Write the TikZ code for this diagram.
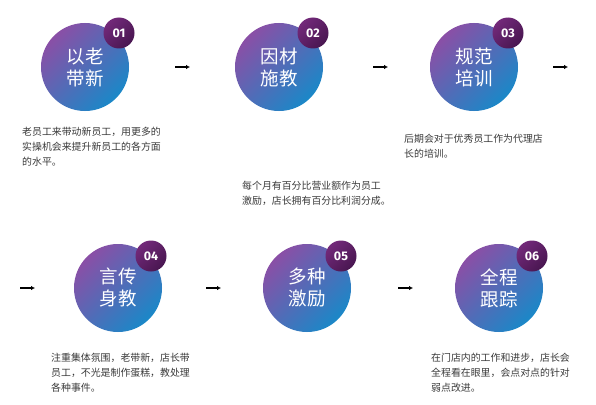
\documentclass[tikz,border=0pt]{standalone}
\usepackage{fontspec}
\setmainfont{Noto Sans CJK SC}
\newfontfamily\numfont{Fira Sans}
\usetikzlibrary{calc}
\usetikzlibrary{arrows.meta}

\definecolor{discTop}{HTML}{8A4FA6}
\definecolor{discBot}{HTML}{1A88C8}
\definecolor{badgeTop}{HTML}{73297A}
\definecolor{badgeBot}{HTML}{481650}
\definecolor{descGray}{HTML}{3A3A3A}

\tikzset{
  stepdisc/.style={circle, minimum size=88pt, inner sep=0pt,
    top color=discTop, bottom color=discBot, shading angle=45,
    text=white, align=center, font=\fontsize{18.5}{22}\selectfont},
  badge/.style={circle, minimum size=31pt, inner sep=0pt,
    top color=badgeTop, bottom color=badgeBot, shading angle=45,
    text=white, font=\numfont\bfseries\fontsize{12.5}{14}\selectfont},
  desc/.style={anchor=north west, align=left, inner sep=0pt,
    text=descGray, font=\fontsize{9.9}{15}\selectfont},
  flowarrow/.style={-{Latex[length=4pt,width=4.5pt]}, line width=1.1pt}
}

\begin{document}
\begin{tikzpicture}[x=1pt,y=-1pt]
            \useasboundingbox (0,0) rectangle (596,404);
            \fill[white] (0,0) rectangle (596,404);

            % Centres of the six discs
            \coordinate (D1) at (85, 67);
            \coordinate (D2) at (279, 67);
            \coordinate (D3) at (474, 67);
            \coordinate (D4) at (118, 288);
            \coordinate (D5) at (307, 288);
            \coordinate (D6) at (499, 288);

            % Draw the discs
            \node[stepdisc] (s1) at (D1) {以老\\带新};
            \node[stepdisc] (s2) at (D2) {因材\\施教};
            \node[stepdisc] (s3) at (D3) {规范\\培训};
            \node[stepdisc] (s4) at (D4) {言传\\身教};
            \node[stepdisc] (s5) at (D5) {多种\\激励};
            \node[stepdisc] (s6) at (D6) {全程\\跟踪};

            % Draw the number badges
            \node[badge] (b1) at ($(D1)+(34,-34)$) {01};
            \node[badge] (b2) at ($(D2)+(34,-34)$) {02};
            \node[badge] (b3) at ($(D3)+(34,-34)$) {03};
            \node[badge] (b4) at ($(D4)+(33,-32)$) {04};
            \node[badge] (b5) at ($(D5)+(34,-32)$) {05};
            \node[badge] (b6) at ($(D6)+(33,-32)$) {06};

            % Draw the arrows
            \coordinate (A1) at (175, 67);  \coordinate (A1e) at (190, 67);
            \coordinate (A2) at (373, 67);  \coordinate (A2e) at (388, 67);
            \coordinate (A3) at (553, 67);  \coordinate (A3e) at (568, 67);
            \coordinate (A4) at (20, 288);  \coordinate (A4e) at (35, 288);
            \coordinate (A5) at (206, 288); \coordinate (A5e) at (221, 288);
            \coordinate (A6) at (398, 288); \coordinate (A6e) at (413, 288);
            \draw[flowarrow] (A1) -- (A1e);
            \draw[flowarrow] (A2) -- (A2e);
            \draw[flowarrow] (A3) -- (A3e);
            \draw[flowarrow] (A4) -- (A4e);
            \draw[flowarrow] (A5) -- (A5e);
            \draw[flowarrow] (A6) -- (A6e);

            % Draw the descriptions
            \node[desc] (t1) at (22, 127) {老员工来带动新员工，用更多的\\实操机会来提升新员工的各方面\\的水平。};
            \node[desc] (t2) at (242, 181) {每个月有百分比营业额作为员工\\激励，店长拥有百分比利润分成。};
            \node[desc] (t3) at (404, 134) {后期会对于优秀员工作为代理店\\长的培训。};
            \node[desc] (t4) at (51, 353) {注重集体氛围，老带新，店长带\\员工，不光是制作蛋糕，教处理\\各种事件。};
            \node[desc] (t6) at (431, 353) {在门店内的工作和进步，店长会\\全程看在眼里，会点对点的针对\\弱点改进。};

        \end{tikzpicture}
\end{document}
